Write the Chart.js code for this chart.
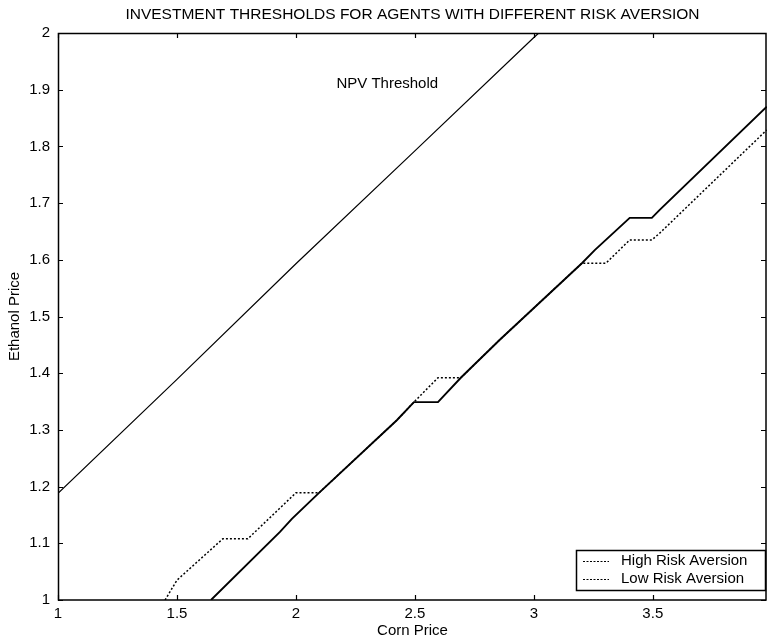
<!DOCTYPE html>
<html><head><meta charset="utf-8">
<script src="https://cdn.jsdelivr.net/npm/chart.js@4.4.1/dist/chart.umd.min.js"></script>
<style>html,body{margin:0;padding:0;background:#fff;overflow:hidden}#wrap{width:767px;height:641px}</style>
</head><body><div id="wrap"><canvas id="c" width="767" height="641"></canvas></div>
<script>
const chartTitle = 'INVESTMENT THRESHOLDS FOR AGENTS WITH DIFFERENT RISK AVERSION';
const xAxisTitle = 'Corn Price';
const yAxisTitle = 'Ethanol Price';
const xTicks = [1, 1.5, 2, 2.5, 3, 3.5];
const xTickLabels = ['1', '1.5', '2', '2.5', '3', '3.5'];
const yTicks = [1, 1.1, 1.2, 1.3, 1.4, 1.5, 1.6, 1.7, 1.8, 1.9, 2];
const yTickLabels = ['1', '1.1', '1.2', '1.3', '1.4', '1.5', '1.6', '1.7', '1.8', '1.9', '2'];
const seriesNames = ['High Risk Aversion', 'Low Risk Aversion'];
const npvLabel = 'NPV Threshold';

// High risk aversion (solid line)
const highX = [1.643, 1.933, 1.983, 2.097, 2.424, 2.496, 2.597, 2.693, 2.857, 3.202, 3.256, 3.403, 3.496, 3.529, 3.979];
const highY = [1.000, 1.120, 1.143, 1.189, 1.317, 1.349, 1.349, 1.392, 1.459, 1.594, 1.617, 1.674, 1.674, 1.688, 1.870];
// Low risk aversion (dotted line)
const lowX = [1.450, 1.500, 1.693, 1.798, 2.000, 2.097, 2.424, 2.496, 2.597, 2.693, 2.857, 3.202, 3.303, 3.403, 3.496, 3.529, 3.979];
const lowY = [1.000, 1.035, 1.108, 1.108, 1.189, 1.189, 1.317, 1.349, 1.392, 1.392, 1.459, 1.594, 1.594, 1.635, 1.635, 1.647, 1.829];
// NPV threshold (thin solid line)
const npvX = [1.000, 1.500, 2.000, 2.500, 3.000, 3.021];
const npvY = [1.188, 1.389, 1.593, 1.792, 1.992, 2.000];

const FONT = "'Liberation Sans', Arial, sans-serif";
const xMin = 1, xMax = 3.98, yMin = 1, yMax = 2;
const npvLabelPos = {x: 2.384, y: 1.91};

const pts = (xs, ys) => xs.map((x, i) => ({x, y: ys[i]}));

const framePlugin = {
  id: 'framePlugin',
  afterDatasetsDraw(chart) {
    const {ctx, chartArea: a, scales: {x, y}} = chart;
    ctx.save();
    ctx.strokeStyle = '#000';
    // frame
    ctx.lineWidth = 1.5;
    ctx.strokeRect(a.left + 0.5, a.top + 0.5, a.right - a.left - 1.5, a.bottom - a.top - 0.5);
    // inward ticks
    const tl = 5;
    ctx.lineWidth = 1.2;
    ctx.beginPath();
    x.ticks.forEach(t => {
      const px = Math.round(x.getPixelForValue(t.value)) + 0.5;
      ctx.moveTo(px, a.bottom); ctx.lineTo(px, a.bottom - tl);
      ctx.moveTo(px, a.top); ctx.lineTo(px, a.top + tl);
    });
    y.ticks.forEach(t => {
      const py = Math.round(y.getPixelForValue(t.value)) + 0.5;
      ctx.moveTo(a.left, py); ctx.lineTo(a.left + tl, py);
      ctx.moveTo(a.right - 1, py); ctx.lineTo(a.right - 1 - tl, py);
    });
    ctx.stroke();
    // NPV label
    ctx.fillStyle = '#000';
    ctx.font = '15px ' + FONT;
    ctx.textAlign = 'center';
    ctx.textBaseline = 'middle';
    ctx.fillText(npvLabel, x.getPixelForValue(npvLabelPos.x), y.getPixelForValue(npvLabelPos.y));
    // legend box
    const bx = a.right - 191, bw = 190, bb = a.bottom - 9, bt = a.bottom - 50;
    ctx.fillStyle = '#fff';
    ctx.fillRect(bx, bt, bw, bb - bt);
    ctx.lineWidth = 1.5;
    ctx.strokeRect(bx + 0.5, bt + 0.5, bw - 1, bb - bt - 1);
    const rows = [a.bottom - 39, a.bottom - 21];
    chart.data.datasets.slice(0, 2).forEach((ds, i) => {
      const cy = rows[i] + 0.5;
      ctx.lineWidth = 1.2;
      ctx.setLineDash([2, 1.5]);
      ctx.beginPath();
      ctx.moveTo(bx + 7, cy); ctx.lineTo(bx + 33, cy);
      ctx.stroke();
      ctx.setLineDash([]);
      ctx.fillStyle = '#000';
      ctx.textAlign = 'left';
      ctx.fillText(ds.label, bx + 45, rows[i]);
    });
    ctx.restore();
  }
};

new Chart(document.getElementById('c'), {
  type: 'line',
  data: {
    datasets: [
      {label: seriesNames[0], data: pts(highX, highY), borderColor: '#000', borderWidth: 1.9, pointRadius: 0, tension: 0, fill: false},
      {label: seriesNames[1], data: pts(lowX, lowY), borderColor: '#000', borderWidth: 1.5, borderDash: [2, 2], pointRadius: 0, tension: 0, fill: false},
      {label: npvLabel, data: pts(npvX, npvY), borderColor: '#000', borderWidth: 1.2, pointRadius: 0, tension: 0, fill: false}
    ]
  },
  options: {
    responsive: false,
    animation: false,
    devicePixelRatio: 1,
    layout: {padding: 0},
    plugins: {
      legend: {display: false},
      tooltip: {enabled: false},
      title: {
        display: true, text: chartTitle, fullSize: false, color: '#000',
        font: {family: FONT, size: 15.5, weight: 'normal'},
        padding: {top: 5, bottom: 9.4}
      }
    },
    scales: {
      x: {
        type: 'linear', min: xMin, max: xMax,
        afterBuildTicks: s => { s.ticks = xTicks.map(v => ({value: v})); },
        afterFit: s => { s.height = 41; },
        grid: {display: false, drawTicks: false},
        border: {display: false},
        ticks: {color: '#000', padding: 5, maxRotation: 0, autoSkip: false,
          font: {family: FONT, size: 15},
          callback: (v) => { const i = xTicks.indexOf(v); return i >= 0 ? xTickLabels[i] : ''; }},
        title: {display: true, text: xAxisTitle, color: '#000', font: {family: FONT, size: 15}, padding: {top: 0, bottom: 1}}
      },
      y: {
        type: 'linear', min: yMin, max: yMax,
        afterBuildTicks: s => { s.ticks = yTicks.map(v => ({value: v})); },
        afterFit: s => { s.width = 58; },
        grid: {display: false, drawTicks: false},
        border: {display: false},
        ticks: {color: '#000', padding: 8, autoSkip: false,
          font: {family: FONT, size: 15},
          callback: (v) => { const i = yTicks.findIndex(t => Math.abs(t - v) < 1e-9); return i >= 0 ? yTickLabels[i] : ''; }},
        title: {display: true, text: yAxisTitle, color: '#000', font: {family: FONT, size: 15}, padding: {top: 6, bottom: 0}}
      }
    }
  },
  plugins: [framePlugin]
});
</script>
</body></html>
